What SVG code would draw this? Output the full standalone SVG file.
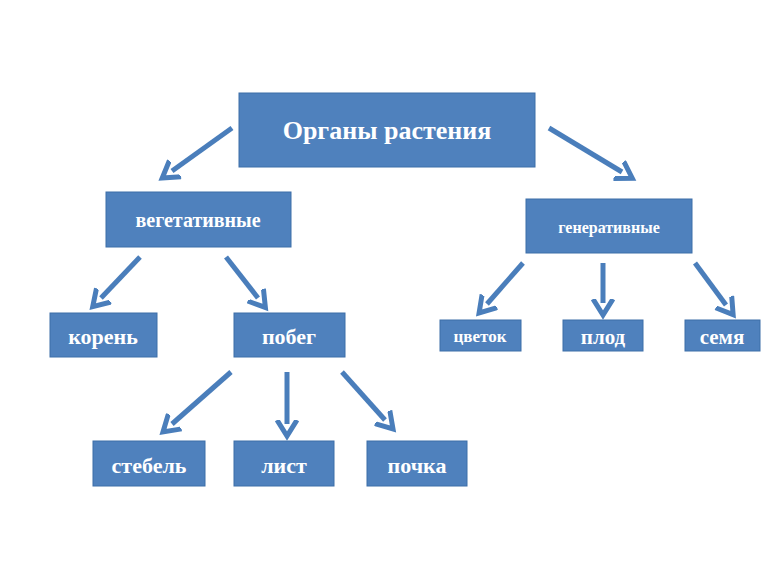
<svg xmlns="http://www.w3.org/2000/svg" width="780" height="585" viewBox="0 0 780 585">
<style>
.b{fill:#4f81bd;stroke:#3d6ea8;stroke-width:1}
.t{fill:#fff;font-family:"Liberation Serif",serif;font-weight:bold;text-anchor:middle;dominant-baseline:central}
.c line{stroke:#4a7ebb;stroke-width:5;marker-end:url(#a)}
</style>
<defs><marker id="a" markerUnits="userSpaceOnUse" markerWidth="24" markerHeight="24" refX="4" refY="12" orient="auto" viewBox="0 0 24 24"><path d="M0,2 L16,12 L0,22" fill="none" stroke="#4a7ebb" stroke-width="5"/></marker></defs>
<rect width="780" height="585" fill="#fff"/>
<g class="c">
<line x1="232" y1="128" x2="172" y2="171"/>
<line x1="549" y1="128" x2="622" y2="172"/>
<line x1="140" y1="257" x2="101" y2="298"/>
<line x1="226" y1="257" x2="258" y2="298"/>
<line x1="523" y1="263" x2="487" y2="304"/>
<line x1="603" y1="263" x2="603" y2="303"/>
<line x1="695" y1="263" x2="726" y2="305"/>
<line x1="231" y1="372" x2="172" y2="424"/>
<line x1="287" y1="372" x2="287" y2="424"/>
<line x1="342" y1="372" x2="385" y2="420"/>
</g>
<g id="root"><rect class="b" x="239" y="93" width="296" height="74"/><text class="t" x="387" y="130" font-size="26">Органы растения</text></g>
<g id="veg"><rect class="b" x="106" y="192" width="185" height="55"/><text class="t" x="198" y="220" font-size="20">вегетативные</text></g>
<g id="gen"><rect class="b" x="526" y="199" width="166" height="54"/><text class="t" x="609" y="227" font-size="16">генеративные</text></g>
<g id="koren"><rect class="b" x="50" y="313" width="107" height="44"/><text class="t" x="103" y="336" font-size="22">корень</text></g>
<g id="pobeg"><rect class="b" x="234" y="313" width="111" height="44"/><text class="t" x="289" y="336" font-size="22">побег</text></g>
<g id="cvetok"><rect class="b" x="440" y="320" width="81" height="31"/><text class="t" x="480" y="336" font-size="17">цветок</text></g>
<g id="plod"><rect class="b" x="563" y="320" width="80" height="31"/><text class="t" x="603" y="337" font-size="21">плод</text></g>
<g id="semya"><rect class="b" x="685" y="320" width="75" height="31"/><text class="t" x="722" y="337" font-size="21">семя</text></g>
<g id="stebel"><rect class="b" x="93" y="441" width="112" height="45"/><text class="t" x="149" y="465" font-size="22">стебель</text></g>
<g id="list"><rect class="b" x="234" y="441" width="100" height="45"/><text class="t" x="284" y="465" font-size="22">лист</text></g>
<g id="pochka"><rect class="b" x="367" y="441" width="100" height="45"/><text class="t" x="417" y="465" font-size="22">почка</text></g>
</svg>
